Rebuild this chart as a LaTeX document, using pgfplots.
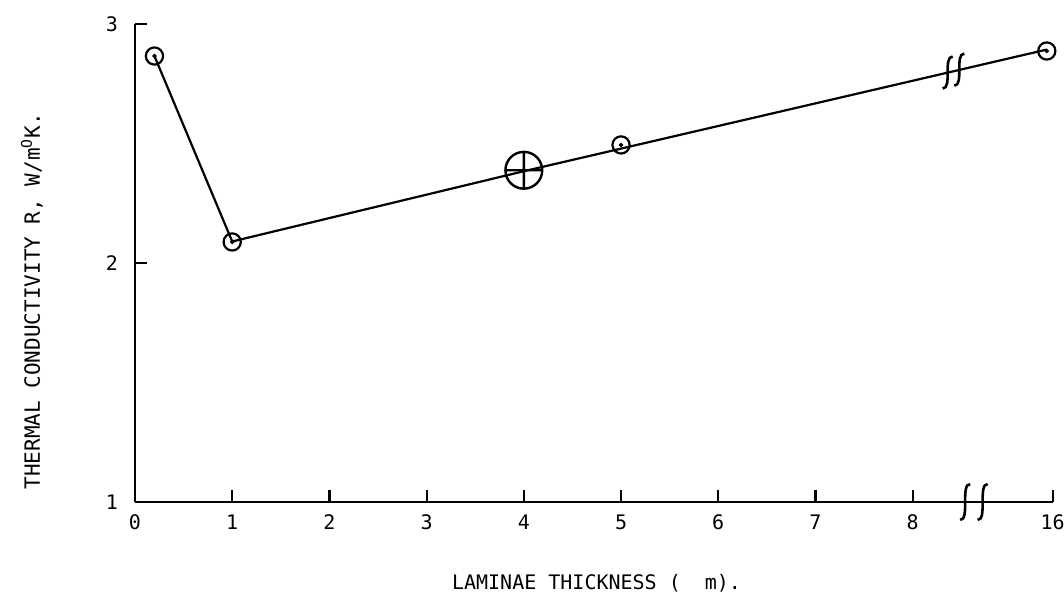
\documentclass[border=0pt]{standalone}
\usepackage{fontspec}
\usepackage{pgfplots}
\pgfplotsset{compat=1.18}
\newfontfamily\mono{DejaVu Sans Mono}

% curly break mark, centred on an axis point
\newcommand{\brk}[3]{%
  \draw[line width=1.3pt] ([shift={(-2.5pt,-#3)}]axis cs:#1,#2)
    .. controls +(5pt,0pt) and +(-5pt,0pt) .. ([shift={(2.5pt,#3)}]axis cs:#1,#2);}

\begin{document}
\begin{tikzpicture}
\path[use as bounding box] (0,0) rectangle (532pt,299.5pt);
\begin{axis}[
  at={(67.5pt,48.5pt)}, anchor=south west,
  scale only axis, width=458.8pt, height=239pt,
  xmin=0, xmax=9.44, ymin=1, ymax=3,
  axis lines=left,
  axis line style={-, line width=1.4pt},
  clip=false,
  tick align=inside,
  major tick length=6pt,
  tick style={line width=1.1pt, black},
  xtick={0,1,2,3,4,5,6,7,8,9.44},
  xticklabels={0,1,2,3,4,5,6,7,8,16},
  ytick={1,2,3},
  yticklabels={1,2,3},
  /pgf/number format/assume math mode=true,
  ticklabel style={font=\mono\fontsize{10}{12}\selectfont},
  xticklabel style={yshift=-3pt},
  yticklabel style={xshift=-5pt},
  xlabel={LAMINAE THICKNESS (\ \ m).},
  ylabel={THERMAL CONDUCTIVITY R, W/m\textsuperscript{O}K.},
  xlabel style={font=\mono\fontsize{10}{12}\selectfont,
    at={(axis description cs:0.503,-0.17)}, anchor=center},
  ylabel style={font=\mono\fontsize{10.5}{12}\selectfont,
    at={(axis description cs:-0.1123,0.42)}, anchor=center},
]
% connecting line
\addplot[black, line width=1.1pt, no markers] coordinates {
  (0.2,2.866) (1,2.090) (4,2.384) (9.38,2.893)};
% circled points
\addplot[only marks, mark=o, mark size=4.3pt, mark options={line width=1.1pt, black}]
  coordinates {(0.2,2.866) (1,2.088) (5,2.494) (9.38,2.887)};
\addplot[only marks, mark=*, mark size=0.9pt, black]
  coordinates {(0.2,2.866) (1,2.088) (5,2.494) (9.38,2.887)};
% large crossed circle
\addplot[only marks, mark=oplus, mark size=9.2pt, mark options={line width=1.2pt, black}]
  coordinates {(4,2.388)};
% break marks
\brk{8.36}{2.797}{8pt}
\brk{8.48}{2.809}{8pt}
\brk{8.54}{1}{9pt}
\brk{8.72}{1}{9pt}
\end{axis}
\end{tikzpicture}
\end{document}
